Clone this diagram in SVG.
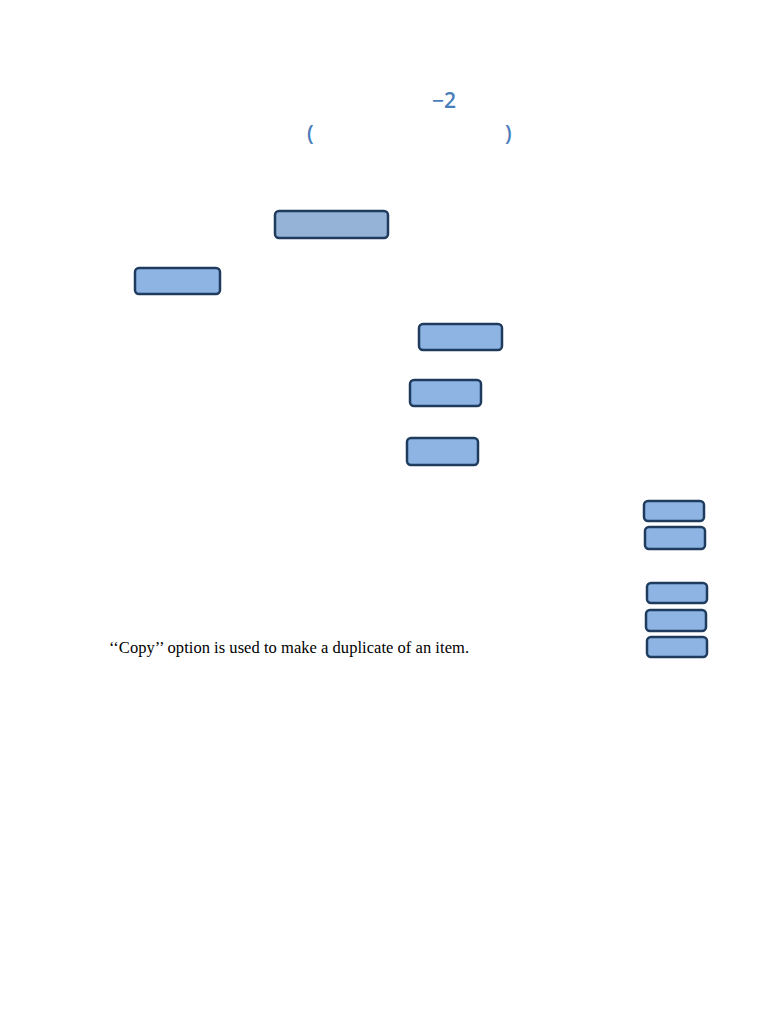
<svg xmlns="http://www.w3.org/2000/svg" width="768" height="1024" viewBox="0 0 768 1024">
<style>
.b{fill:#8eb4e3;stroke:#1f3b5e;stroke-width:2.5}
.h{font-family:"Open Sans","Liberation Sans",sans-serif;font-size:21px;font-weight:600;fill:#4a7ebb}
.t{font-family:"Liberation Serif",serif;font-size:16.5px;fill:#000}
</style>
<rect width="768" height="1024" fill="#fff"/>
<text class="h" x="432" y="108">−2</text>
<text class="h" x="307" y="141">(</text>
<text class="h" x="505" y="141">)</text>
<g id="n1"><rect class="b" x="275" y="211" width="113" height="27" rx="4" style="fill:#95b3d7"/></g>
<g id="n2"><rect class="b" x="135" y="268" width="85" height="26" rx="4"/></g>
<g id="n3"><rect class="b" x="419" y="324" width="83" height="26" rx="4"/></g>
<g id="n4"><rect class="b" x="410" y="380" width="71" height="26" rx="4"/></g>
<g id="n5"><rect class="b" x="407" y="438" width="71" height="27" rx="4"/></g>
<g id="n6"><rect class="b" x="644" y="501" width="60" height="20" rx="4"/></g>
<g id="n7"><rect class="b" x="645" y="527" width="60" height="22" rx="4"/></g>
<g id="n8"><rect class="b" x="647" y="583" width="60" height="20" rx="4"/></g>
<g id="n9"><rect class="b" x="646" y="610" width="60" height="21" rx="4"/></g>
<g id="n10"><rect class="b" x="647" y="637" width="60" height="20" rx="4"/></g>
<g id="connectors"></g>
<text class="t" x="109" y="653" textLength="360" lengthAdjust="spacing">‘‘Copy’’ option is used to make a duplicate of an item.</text>
</svg>
